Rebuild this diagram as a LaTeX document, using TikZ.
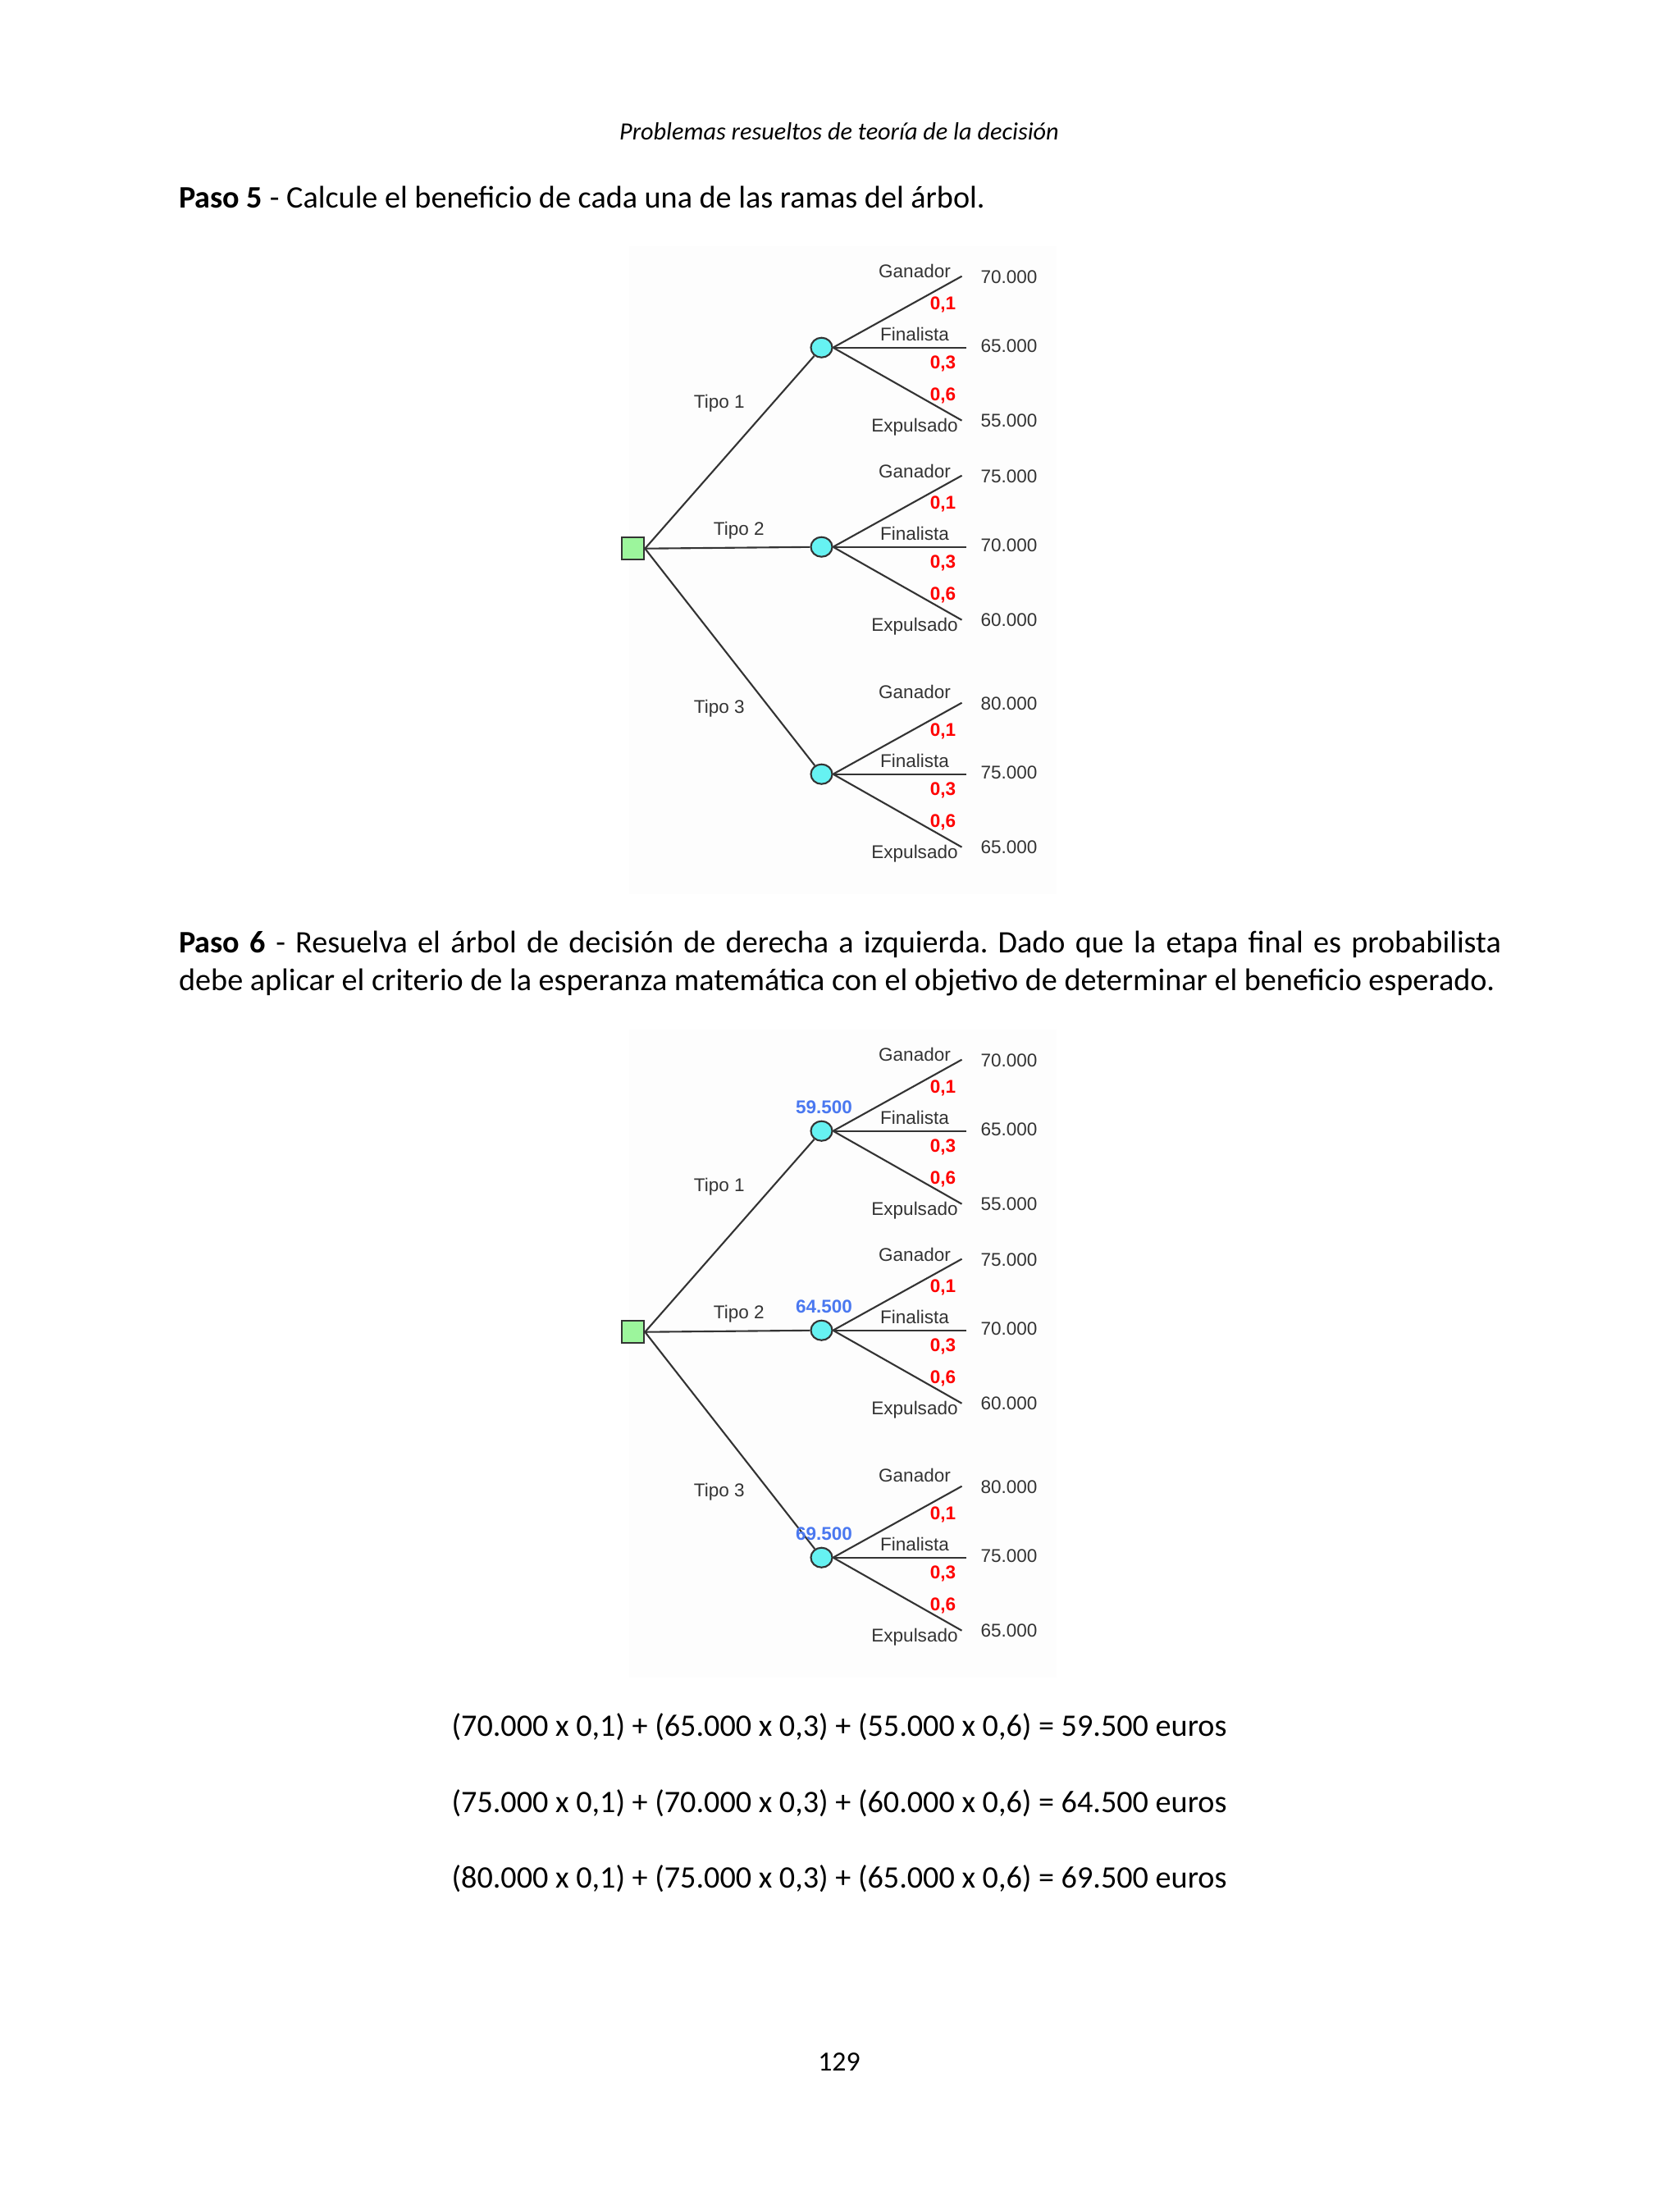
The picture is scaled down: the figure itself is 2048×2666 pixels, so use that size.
\documentclass[tikz,border=0pt]{standalone}
\usepackage{fontspec}
\setmainfont{Carlito}
\newfontfamily\treefont{Liberation Sans}
\usepackage{xcolor}
\usetikzlibrary{shapes.geometric,calc}
\frenchspacing

\definecolor{linegray}{HTML}{333333}
\definecolor{decgreen}{HTML}{9CF59C}
\definecolor{chancecyan}{HTML}{66F2F2}
\definecolor{probred}{HTML}{FF0000}
\definecolor{evblue}{HTML}{4A78F0}

\begin{document}
\begin{tikzpicture}[
  x=0.01cm, y=-0.01cm,
  body/.style={inner sep=0pt, font=\fontsize{10.85}{13}\selectfont},
  hdr/.style={inner sep=0pt, font=\itshape\fontsize{8.6}{10}\selectfont},
  tree/.style={draw=linegray, line width=0.6pt},
  decision/.style={draw=linegray, line width=0.6pt, fill=decgreen, minimum size=0.27cm, inner sep=0pt},
  chance/.style={ellipse, draw=linegray, line width=0.6pt, fill=chancecyan,
                 minimum width=0.26cm, minimum height=0.24cm, inner sep=0pt},
  lbl/.style={inner sep=0pt, text=linegray, font=\treefont\fontsize{6.4}{7}\selectfont},
  prob/.style={lbl, text=probred, font=\treefont\bfseries\fontsize{6.4}{7}\selectfont},
  ev/.style={lbl, text=evblue, font=\treefont\bfseries\fontsize{6.4}{7}\selectfont},
  imgbg/.style={fill=black!0.7}
]
\useasboundingbox (0,0) rectangle (2048,2666);
% Header and step 5
\node[hdr, anchor=base] (head) at (1023,170) {Problemas resueltos de teoría de la decisión};
\node[body, anchor=base west] (paso5) at (217.5,253)
  {\textbf{Paso 5} - Calcule el beneficio de cada una de las ramas del árbol.};
% Trees (same layout, second one shifted down)
\foreach \tr/\dy in {1/0, 2/955} {
  \fill[imgbg] (767,{300+\dy}) rectangle (1288,{1090+\dy});
  \node[decision] (d\tr) at (771.7,{668.7+\dy}) {};
  \foreach \nd/\cy/\gy/\tx/\ty/\va/\vb/\vc in {
      1/-245/93/105/-177/70.000/65.000/55.000,
      2/-2/92/129/-22/75.000/70.000/60.000,
      3/275/100/105/195/80.000/75.000/65.000} {
    \node[chance] (c\tr\nd) at ($(d\tr)+(229.8,\cy)$) {};
    \draw[tree] (d\tr.east) -- (c\tr\nd);
    \node[lbl] (tipo\tr\nd) at ($(d\tr)+(\tx,\ty)$) {Tipo \nd};
    % branch ends
    \coordinate (g\tr\nd) at ($(c\tr\nd)+(171,-87)$);
    \coordinate (f\tr\nd) at ($(c\tr\nd)+(176.5,0)$);
    \coordinate (e\tr\nd) at ($(c\tr\nd)+(171,89)$);
    \draw[tree] (c\tr\nd.east) -- (g\tr\nd);
    \draw[tree] (c\tr\nd.east) -- (f\tr\nd);
    \draw[tree] (c\tr\nd.east) -- (e\tr\nd);
    % labels
    \node[lbl] (gl\tr\nd) at ($(c\tr\nd)+(113.5,-\gy)$) {Ganador};
    \node[prob] (p1\tr\nd) at ($(c\tr\nd)+(148,-52)$) {0,1};
    \node[lbl] (fl\tr\nd) at ($(c\tr\nd)+(113.5,-16)$) {Finalista};
    \node[prob] (p3\tr\nd) at ($(c\tr\nd)+(148,20)$) {0,3};
    \node[prob] (p6\tr\nd) at ($(c\tr\nd)+(148,59)$) {0,6};
    \node[lbl] (el\tr\nd) at ($(c\tr\nd)+(113.5,97)$) {Expulsado};
    % payoffs
    \node[lbl] (va\tr\nd) at ($(c\tr\nd)+(228.5,-86)$) {\va};
    \node[lbl] (vb\tr\nd) at ($(c\tr\nd)+(228.5,-2)$) {\vb};
    \node[lbl] (vc\tr\nd) at ($(c\tr\nd)+(228.5,89)$) {\vc};
  }
}
% Expected values (second tree)
\foreach \nd/\v in {1/59.500, 2/64.500, 3/69.500}
  \node[ev] (ev\nd) at ($(c2\nd)+(3,-29)$) {\v};
% Step 6
\node[body, anchor=base west] (paso6a) at (217.5,1161)
  {\makebox[16.11cm][s]{\textbf{Paso 6} - Resuelva el árbol de decisión de derecha a izquierda. Dado que la etapa final es probabilista}};
\node[body, anchor=base west] (paso6b) at (217.5,1207)
  {debe aplicar el criterio de la esperanza matemática con el objetivo de determinar el beneficio esperado.};
% Calculations
\node[body, anchor=base] (eq1) at (1023,2116) {(70.000 x 0,1) + (65.000 x 0,3) + (55.000 x 0,6) = 59.500 euros};
\node[body, anchor=base] (eq2) at (1023,2209) {(75.000 x 0,1) + (70.000 x 0,3) + (60.000 x 0,6) = 64.500 euros};
\node[body, anchor=base] (eq3) at (1023,2301) {(80.000 x 0,1) + (75.000 x 0,3) + (65.000 x 0,6) = 69.500 euros};
% Page number
\node[body, anchor=base, font=\fontsize{9.6}{11}\selectfont] (pagenum) at (1023,2524) {129};
\end{tikzpicture}
\end{document}
